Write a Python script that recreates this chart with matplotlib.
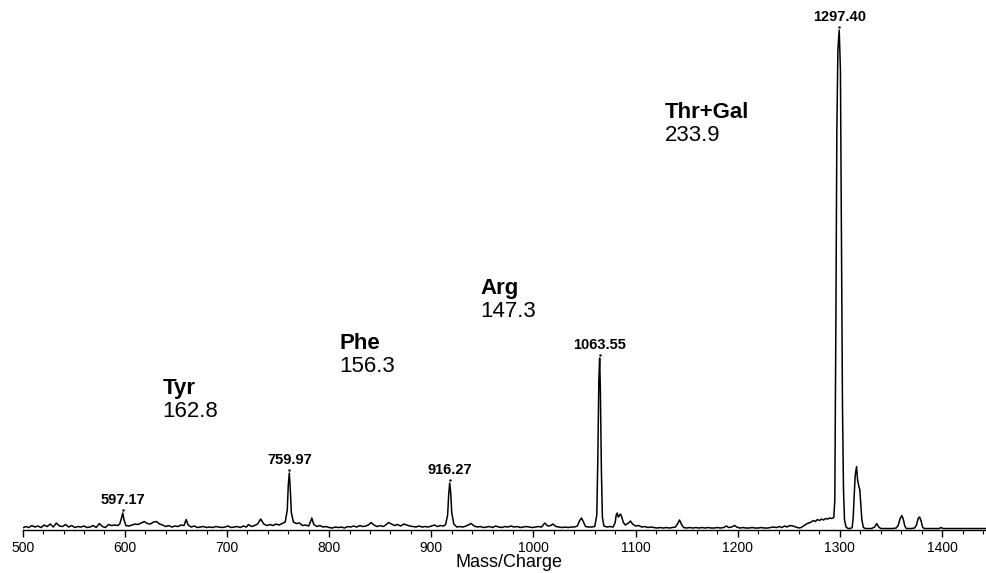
import matplotlib
matplotlib.use("Agg")
import matplotlib.pyplot as plt
from matplotlib.ticker import MultipleLocator

plt.rcParams['font.family'] = ['Liberation Sans', 'DejaVu Sans']

# trace (m/z, relative intensity %, base peak = 100)
mz = [500, 503, 506, 509, 512, 515, 518, 521, 524, 527, 530, 533, 536, 539, 542, 545, 548, 551,
      554, 557, 560, 563, 566, 569, 572, 575, 578, 581, 584, 587, 590, 593, 595, 597, 598, 599,
      601, 604, 607, 610, 613, 616, 619, 622, 625, 628, 631, 634, 637, 640, 643, 646, 649, 652,
      655, 658, 660, 662, 665, 668, 671, 674, 677, 680, 683, 686, 689, 692, 695, 698, 701, 704,
      707, 710, 713, 716, 719, 721, 724, 727, 730, 733, 736, 739, 742, 745, 748, 751, 754, 757,
      759, 760, 761, 762, 763, 765, 768, 771, 774, 777, 780, 782, 783, 785, 788, 791, 794, 797,
      800, 803, 806, 809, 812, 815, 818, 821, 824, 827, 830, 833, 836, 839, 841, 844, 847, 850,
      853, 856, 858, 861, 864, 867, 870, 873, 876, 879, 882, 885, 888, 891, 894, 897, 900, 903,
      906, 909, 912, 914, 916, 917, 918, 919, 920, 922, 925, 928, 931, 934, 937, 939, 942, 945,
      948, 951, 954, 957, 960, 963, 966, 969, 972, 975, 978, 981, 984, 987, 990, 993, 996, 999,
      1002, 1005, 1008, 1011, 1014, 1017, 1019, 1022, 1025, 1028, 1031, 1034, 1037, 1040, 1043,
      1045, 1047, 1049, 1051, 1054, 1057, 1060, 1062, 1063, 1064, 1064.8, 1065.5, 1066.5, 1067.5,
      1069, 1072, 1075, 1078, 1080, 1081, 1082, 1083, 1084, 1085, 1086, 1088, 1090, 1093, 1095,
      1097, 1100, 1103, 1106, 1109, 1112, 1115, 1118, 1121, 1124, 1127, 1130, 1133, 1136, 1139,
      1141, 1143, 1145, 1147, 1150, 1153, 1156, 1159, 1162, 1165, 1168, 1171, 1174, 1177, 1180,
      1183, 1186, 1189, 1191, 1194, 1197, 1199, 1202, 1205, 1208, 1211, 1214, 1217, 1220, 1223,
      1226, 1229, 1232, 1235, 1238, 1241, 1243, 1246, 1248, 1251, 1254, 1257, 1260, 1262, 1265,
      1268, 1271, 1274, 1276, 1278, 1280, 1282, 1284, 1286, 1288, 1290, 1292, 1294, 1295, 1296,
      1297, 1298, 1299.3, 1300.5, 1301.5, 1302.5, 1303.5, 1304.5, 1306, 1308, 1310, 1312, 1313,
      1314, 1315, 1316.3, 1317.3, 1318.5, 1319.5, 1320.5, 1321.5, 1323, 1325, 1328, 1331, 1334,
      1336, 1338, 1340, 1344, 1348, 1352, 1355, 1357, 1359, 1360.5, 1362, 1363.5, 1365, 1370,
      1373, 1375, 1376.5, 1378, 1379.5, 1381, 1383, 1390, 1397, 1399, 1401, 1410, 1420, 1430, 1443]

rel_int = [0.4, 0.7, 0.5, 0.9, 0.6, 0.8, 0.5, 1.0, 0.7, 1.2, 0.6, 1.4, 0.8, 0.7, 1.1, 0.6, 0.9, 0.5,
           0.7, 0.6, 0.8, 0.5, 0.6, 0.9, 0.5, 1.3, 0.7, 0.5, 1.1, 0.9, 1.0, 0.9, 1.2, 2.6, 3.4, 2.2,
           0.9, 0.8, 1.0, 1.2, 1.1, 1.4, 1.7, 1.3, 1.2, 1.6, 1.7, 1.2, 1.0, 0.7, 0.9, 0.6, 0.8, 0.7,
           1.0, 0.9, 2.1, 1.0, 0.6, 0.8, 0.5, 0.6, 0.7, 0.5, 0.6, 0.5, 0.7, 0.6, 0.5, 0.6, 0.8, 0.5,
           0.6, 0.7, 0.5, 0.8, 0.6, 1.1, 0.7, 0.9, 1.2, 2.2, 1.2, 0.9, 1.1, 0.9, 1.2, 1.0, 1.3, 1.6,
           4.0, 9.0, 11.4, 8.0, 3.5, 1.6, 1.3, 1.4, 0.9, 1.0, 0.8, 1.8, 2.4, 1.1, 0.7, 0.9, 0.6, 0.7,
           0.5, 0.4, 0.6, 0.5, 0.6, 0.4, 0.7, 0.6, 0.8, 0.6, 0.9, 0.7, 0.8, 1.1, 1.5, 1.0, 0.7, 0.9,
           0.7, 1.1, 1.5, 1.2, 0.9, 1.1, 0.8, 1.2, 1.0, 0.8, 0.7, 0.6, 0.8, 0.6, 0.7, 0.6, 0.8, 1.0,
           0.7, 0.9, 0.8, 1.1, 3.0, 7.0, 9.4, 7.5, 3.5, 1.2, 0.6, 0.7, 0.6, 0.8, 1.1, 1.3, 0.8, 0.6,
           0.7, 0.5, 0.6, 0.7, 0.5, 0.8, 0.6, 0.5, 0.7, 0.6, 0.8, 0.6, 0.7, 0.5, 0.6, 0.7, 0.6, 0.5,
           0.6, 0.7, 0.6, 1.4, 0.8, 0.9, 1.2, 0.7, 0.6, 0.5, 0.6, 0.5, 0.6, 0.6, 0.8,
           1.8, 2.4, 1.6, 0.7, 0.6, 0.6, 0.7, 3.0, 14.0, 30.0, 34.4, 28.0, 12.0, 2.5,
           0.8, 0.6, 0.7, 0.6, 1.5, 3.0, 3.4, 2.6, 2.8, 3.2, 2.9, 1.5, 1.0, 1.4, 1.8,
           1.2, 0.8, 0.9, 0.6, 0.7, 0.5, 0.6, 0.5, 0.4, 0.5, 0.4, 0.5, 0.4, 0.5, 0.6,
           1.2, 2.0, 1.1, 0.5, 0.4, 0.5, 0.4, 0.5, 0.4, 0.5, 0.4, 0.5, 0.4, 0.4, 0.5,
           0.4, 0.5, 0.8, 0.5, 0.6, 0.9, 0.6, 0.4, 0.5, 0.4, 0.4, 0.5, 0.4, 0.4, 0.5,
           0.4, 0.4, 0.5, 0.6, 0.5, 0.7, 0.5, 0.8, 0.6, 0.9, 0.8, 0.6, 0.4, 0.5, 0.9,
           1.3, 1.5, 1.9, 1.7, 2.1, 1.9, 2.2, 2.0, 2.3, 2.2, 2.4, 2.3, 2.5, 6.0, 40.0,
           80.0, 96.0, 100.0, 92.0, 60.0, 25.0, 8.0, 2.0, 0.6, 0.3, 0.3, 0.5, 2.5,
           7.0, 11.0, 12.7, 10.0, 8.8, 8.0, 5.0, 2.0, 0.5, 0.3, 0.3, 0.3, 0.6,
           1.3, 0.6, 0.3, 0.3, 0.3, 0.3, 0.4, 0.9, 2.3, 2.9, 2.2, 0.8, 0.3, 0.3,
           0.4, 1.0, 2.3, 2.6, 1.8, 0.5, 0.3, 0.3, 0.3, 0.5, 0.3, 0.3, 0.3, 0.3, 0.3]

# labelled peaks: where they sit on the trace and the printed mass
peak_pos = [598, 761, 918, 1064.8, 1299.3]
peak_top = [3.4, 11.4, 9.4, 34.4, 100.0]
peak_text = ["597.17", "759.97", "916.27", "1063.55", "1297.40"]

# residue losses between peaks
loss_names = ["Tyr", "Phe", "Arg", "Thr+Gal"]
loss_values = ["162.8", "156.3", "147.3", "233.9"]
loss_x = [637, 810, 948, 1129]
loss_y = [28.4, 37.4, 48.4, 83.6]

fig = plt.figure(figsize=(9.86, 5.73), dpi=100)
ax = fig.add_axes([0.023, 0.075, 0.977, 0.916])

ax.plot(mz, rel_int, color="black", lw=1.1)

for x, top, txt in zip(peak_pos, peak_top, peak_text):
    ax.annotate(txt, (x, top), xytext=(0, 6), textcoords="offset pixels",
                ha="center", va="bottom", fontsize=10.5, fontweight="bold")
    ax.plot([x], [top + 0.6], marker=".", ms=1.5, color="black")

for name, val, x, y in zip(loss_names, loss_values, loss_x, loss_y):
    ax.text(x, y, name, fontsize=16, fontweight="bold", ha="left", va="center")
    ax.annotate(val, (x, y), xytext=(0, -23), textcoords="offset pixels",
                fontsize=16, ha="left", va="center")

ax.set_xlim(500, 1443)
ax.set_ylim(0, 105)
ax.xaxis.set_major_locator(MultipleLocator(100))
ax.xaxis.set_minor_locator(MultipleLocator(20))
ax.tick_params(axis="x", which="major", direction="out", length=5, width=1, labelsize=10, pad=3)
ax.tick_params(axis="x", which="minor", direction="out", length=3, width=0.8)
ax.set_yticks([])
for side in ["top", "left", "right"]:
    ax.spines[side].set_visible(False)
ax.spines["bottom"].set_linewidth(1.0)
ax.set_xlabel("Mass/Charge", fontsize=13)
ax.xaxis.set_label_coords(0.505, -0.045)

fig.savefig("out.png", dpi=100)
